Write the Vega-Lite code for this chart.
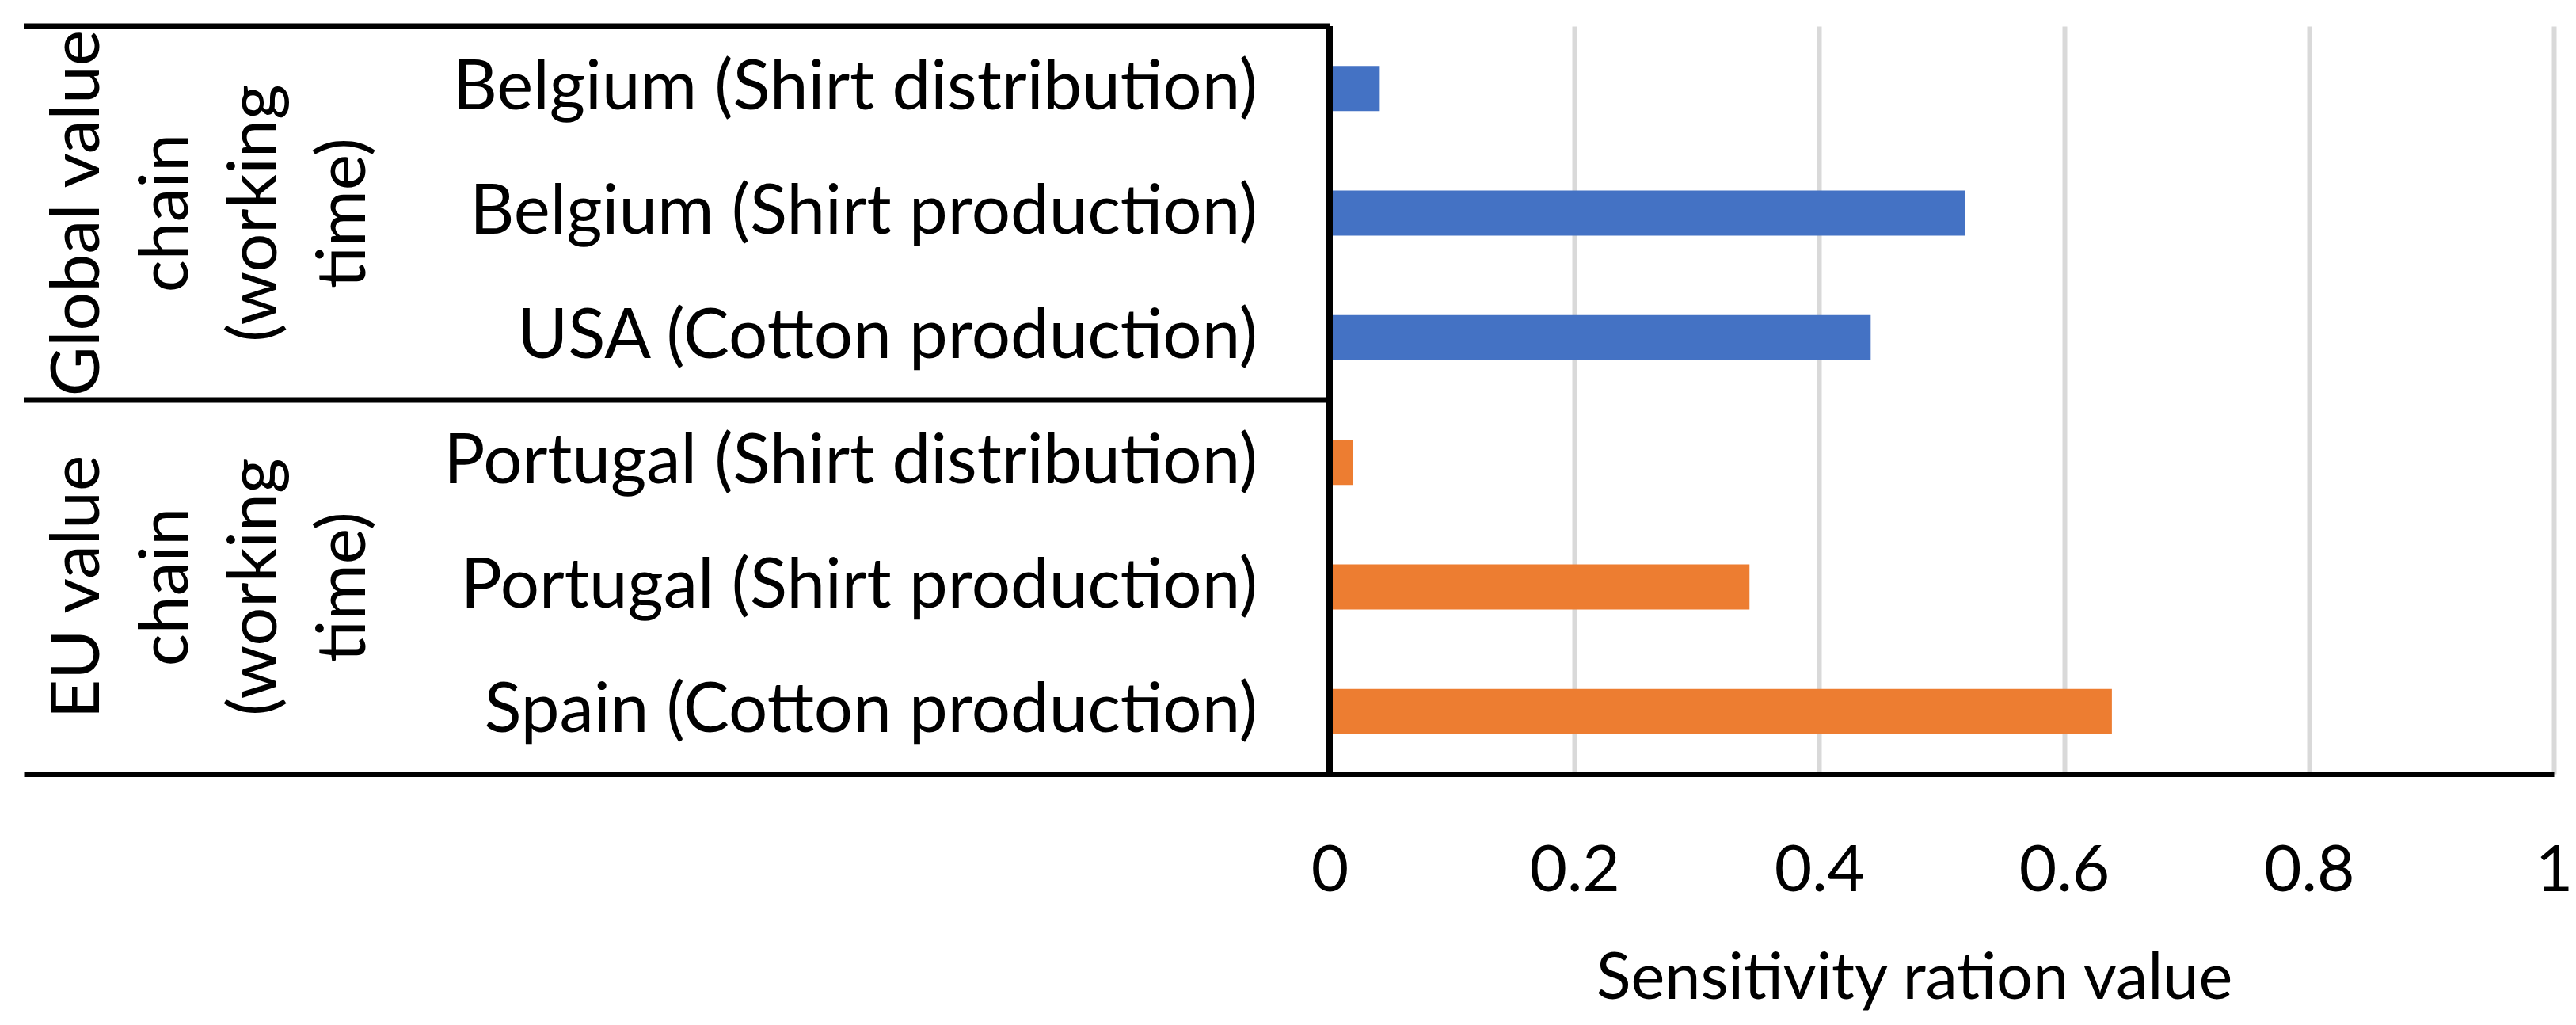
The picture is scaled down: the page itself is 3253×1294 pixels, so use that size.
{
  "$schema": "https://vega.github.io/schema/vega-lite/v6.json",
  "width": 3195,
  "height": 944,
  "autosize": {"type": "none"},
  "padding": {"left": 30, "top": 33, "right": 28, "bottom": 317},
  "background": "white",
  "config": {"view": {"stroke": null}},
  "datasets": {
    "bars": [
      {"group": "Global", "category": "Belgium (Shirt distribution)", "value": 0.041},
      {"group": "Global", "category": "Belgium (Shirt production)", "value": 0.519},
      {"group": "Global", "category": "USA (Cotton production)", "value": 0.442},
      {"group": "EU", "category": "Portugal (Shirt distribution)", "value": 0.019},
      {"group": "EU", "category": "Portugal (Shirt production)", "value": 0.343},
      {"group": "EU", "category": "Spain (Cotton production)", "value": 0.639}
    ],
    "groups": [
      {"group": "Global", "first": "Belgium (Shirt distribution)", "mid": "Belgium (Shirt production)", "label": "Global value\nchain\n(working\ntime)"},
      {"group": "EU", "first": "Portugal (Shirt distribution)", "mid": "Portugal (Shirt production)", "label": "EU value\nchain\n(working\ntime)"}
    ]
  },
  "layer": [
    {
      "data": {"name": "bars"},
      "mark": {"type": "bar", "height": {"band": 0.362}},
      "encoding": {
        "y": {"field": "category", "type": "nominal", "axis": null, "sort": null,
              "scale": {"domain": ["Belgium (Shirt distribution)", "Belgium (Shirt production)", "USA (Cotton production)", "Portugal (Shirt distribution)", "Portugal (Shirt production)", "Spain (Cotton production)"],
                        "paddingInner": 0, "paddingOuter": 0}},
        "x": {"field": "value", "type": "quantitative",
              "scale": {"domain": [-1.0666, 1], "nice": false, "zero": false},
              "axis": {
                "values": [0, 0.2, 0.4, 0.6, 0.8, 1],
                "format": "~g",
                "grid": true, "gridColor": "#D9D9D9", "gridWidth": 6,
                "domainColor": "black", "domainWidth": 7,
                "ticks": false, "tickSize": 0,
                "labelPadding": 82, "labelFontSize": 82, "labelFont": "Lato", "labelColor": "black", "labelFlush": false,
                "title": "Sensitivity ration value",
                "titleFont": "Lato", "titleFontSize": 81, "titleFontWeight": "normal", "titleColor": "black",
                "titleX": 2387, "titleY": 283, "titleBaseline": "alphabetic", "titleAlign": "center", "titleAngle": 0
              }},
        "color": {"field": "group", "type": "nominal", "legend": null,
                  "scale": {"domain": ["Global", "EU"], "range": ["#4472C4", "#ED7D31"]}}
      }
    },
    {
      "data": {"name": "bars"},
      "mark": {"type": "text", "align": "right", "baseline": "middle", "font": "Lato", "fontSize": 87, "color": "black"},
      "encoding": {
        "y": {"field": "category", "type": "nominal", "axis": null, "sort": null},
        "x": {"datum": -0.0589},
        "text": {"field": "category"}
      }
    },
    {
      "data": {"name": "groups"},
      "mark": {"type": "text", "align": "center", "baseline": "middle", "angle": 270, "lineBreak": "\n", "lineHeight": 112, "font": "Lato", "fontSize": 86, "color": "black"},
      "encoding": {
        "y": {"field": "mid", "type": "nominal", "axis": null, "sort": null},
        "x": {"datum": -1.0222},
        "text": {"field": "label"}
      }
    },
    {
      "data": {"name": "groups"},
      "mark": {"type": "rule", "color": "black", "strokeWidth": 7},
      "encoding": {
        "y": {"field": "first", "type": "nominal", "bandPosition": 0, "axis": null, "sort": null},
        "x": {"datum": -1.0666},
        "x2": {"datum": 0}
      }
    },
    {
      "data": {"name": "groups"},
      "mark": {"type": "rule", "color": "black", "strokeWidth": 8},
      "encoding": {
        "x": {"datum": 0}
      }
    }
  ]
}
